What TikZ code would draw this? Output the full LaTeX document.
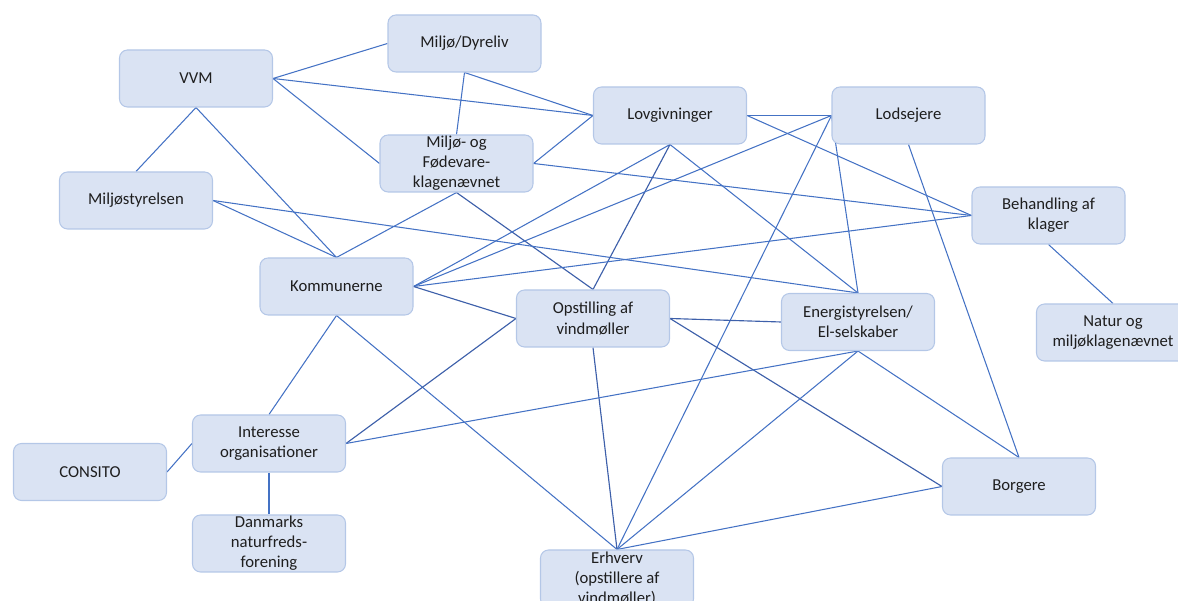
\documentclass[tikz,border=0pt]{standalone}
\usepackage{fontspec}
\setmainfont{Carlito}
\definecolor{boxfill}{HTML}{DAE3F3}
\definecolor{boxline}{HTML}{B4C7E7}
\definecolor{linkblue}{HTML}{4472C4}
\definecolor{linkdark}{RGB}{62,96,170}
\definecolor{textgray}{HTML}{1E1E1E}
\usepackage{tikz}
\usetikzlibrary{backgrounds}

\begin{document}
\begin{tikzpicture}[
    box/.style={draw=boxline,line width=0.6pt,fill=boxfill,rounded corners=0.16cm,
        minimum width=3.06cm,minimum height=1.14cm,inner sep=0pt,align=center,
        text=textgray,font=\fontsize{9.5}{11.4}\selectfont},
    link/.style={draw=linkblue,line width=0.6pt},
    linkd/.style={draw=linkdark,line width=0.65pt}]
    \useasboundingbox (0,0) rectangle (23.56,12.02);

    % Top row
    \node[box] (vvm) at (3.92,10.45) {VVM};
    \node[box] (dyreliv) at (9.29,11.15) {Miljø/Dyreliv};
    \node[box] (mstyr) at (2.72,8.01) {Miljøstyrelsen};
    \node[box] (mfk) at (9.13,8.75) {Miljø- og\\Fødevare-\\klagenævnet};
    \node[box] (lov) at (13.40,9.71) {Lovgivninger};
    \node[box] (lods) at (18.17,9.71) {Lodsejere};
    \node[box] (beh) at (20.97,7.71) {Behandling af\\klager};

    % Middle row
    \node[box] (komm) at (6.73,6.29) {Kommunerne};
    \node[box] (opst) at (11.86,5.65) {Opstilling af\\vindmøller};
    \node[box] (energi) at (17.16,5.58) {Energistyrelsen/\\El-selskaber};
    \node[box] (natur) at (22.26,5.37) {Natur og\\miljøklagenævnet};

    % Bottom row
    \node[box] (inter) at (5.38,3.15) {Interesse\\organisationer};
    \node[box] (consito) at (1.80,2.58) {CONSITO};
    \node[box] (dn) at (5.38,1.15) {Danmarks\\naturfreds-\\forening};
    \node[box] (borg) at (20.38,2.29) {Borgere};
    \node[box] (erhv) at (12.34,0.45) {Erhverv\\(opstillere af\\vindmøller)};

    % Links
    \begin{scope}[on background layer]
    \draw[link] (vvm.east) -- (dyreliv.west);
    \draw[link] (vvm.east) -- (lov.west);
    \draw[link] (vvm.east) -- (mfk.west);
    \draw[link] (vvm.south) -- (mstyr.north);
    \draw[link] (vvm.south) -- (komm.north);
    \draw[link] (dyreliv.south) -- (mfk.north);
    \draw[link] (dyreliv.south) -- (lov.west);
    \draw[link] (mfk.east) -- (lov.west);
    \draw[link] (mfk.east) -- (beh.west);
    \draw[link] (mfk.south) -- (komm.north);
    \draw[linkd] (mfk.south) -- (opst.north);
    \draw[link] (mstyr.east) -- (komm.north);
    \draw[link] (mstyr.east) -- (energi.north);
    \draw[link] (lov.east) -- (lods.west);
    \draw[link] (lov.east) -- (beh.west);
    \draw[link] (lov.south) -- (komm.east);
    \draw[linkd] (lov.south) -- (opst.north);
    \draw[link] (lov.south) -- (energi.north);
    \draw[link] (lods.west) -- (komm.east);
    \draw[link] (lods.west) -- (erhv.north);
    \draw[link] (lods.west) -- (energi.north);
    \draw[link] (lods.south) -- (borg.north);
    \draw[link] (beh.west) -- (komm.east);
    \draw[link] (beh.south) -- (natur.north);
    \draw[linkd] (komm.east) -- (opst.west);
    \draw[link] (komm.south) -- (inter.north);
    \draw[link] (komm.south) -- (erhv.north);
    \draw[linkd] (opst.west) -- (inter.east);
    \draw[linkd] (opst.east) -- (energi.west);
    \draw[linkd] (opst.east) -- (borg.west);
    \draw[linkd] (opst.south) -- (erhv.north);
    \draw[link] (energi.south) -- (inter.east);
    \draw[link] (energi.south) -- (borg.north);
    \draw[link] (energi.south) -- (erhv.north);
    \draw[link] (inter.west) -- (consito.east);
    \draw[link] (inter.south) -- (dn.north);
    \draw[link] (borg.west) -- (erhv.north);
    \end{scope}
\end{tikzpicture}
\end{document}
